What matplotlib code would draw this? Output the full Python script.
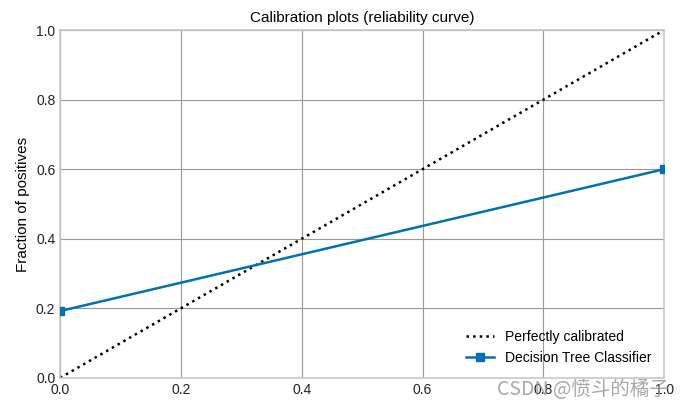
import matplotlib
matplotlib.use("Agg")
import matplotlib.pyplot as plt

plt.rcParams['font.family'] = ['Liberation Sans', 'Noto Sans CJK SC', 'DejaVu Sans']

# data
perfect_x = [0, 1]
perfect_y = [0, 1]
mean_pred = [0.0, 1.0]        # mean predicted value per bin
frac_pos = [0.192, 0.60]      # fraction of positives per bin

fig, ax = plt.subplots(figsize=(6.84, 4.12), dpi=100)
fig.subplots_adjust(left=0.088, right=0.971, top=0.927, bottom=0.083)

ax.plot(perfect_x, perfect_y, "k:", linewidth=1.8, label="Perfectly calibrated")
ax.plot(mean_pred, frac_pos, "s-", color="#0072B2", linewidth=1.8, markersize=6,
        label="Decision Tree Classifier", zorder=3)

ax.set_xlim(0, 1)
ax.set_ylim(0, 1)
ax.set_ylabel("Fraction of positives", fontsize=11)
ax.set_title("Calibration plots (reliability curve)", fontsize=11)
ax.grid(True, color="#999999", linewidth=0.8)
ax.set_axisbelow(True)
for s in ax.spines.values():
    s.set_color("#c8c8c8")
    s.set_linewidth(1.2)
ax.tick_params(length=0, labelsize=10, colors="#222222")

ax.legend(loc="lower right", frameon=False, fontsize=10)

# watermark
fig.text(0.978, 0.055, "CSDN @愤斗的橘子", ha="right", va="center", fontsize=14,
         color="#9a9a9a", alpha=0.85, family=['Noto Sans CJK SC', 'DejaVu Sans'])

plt.savefig("out.png")
